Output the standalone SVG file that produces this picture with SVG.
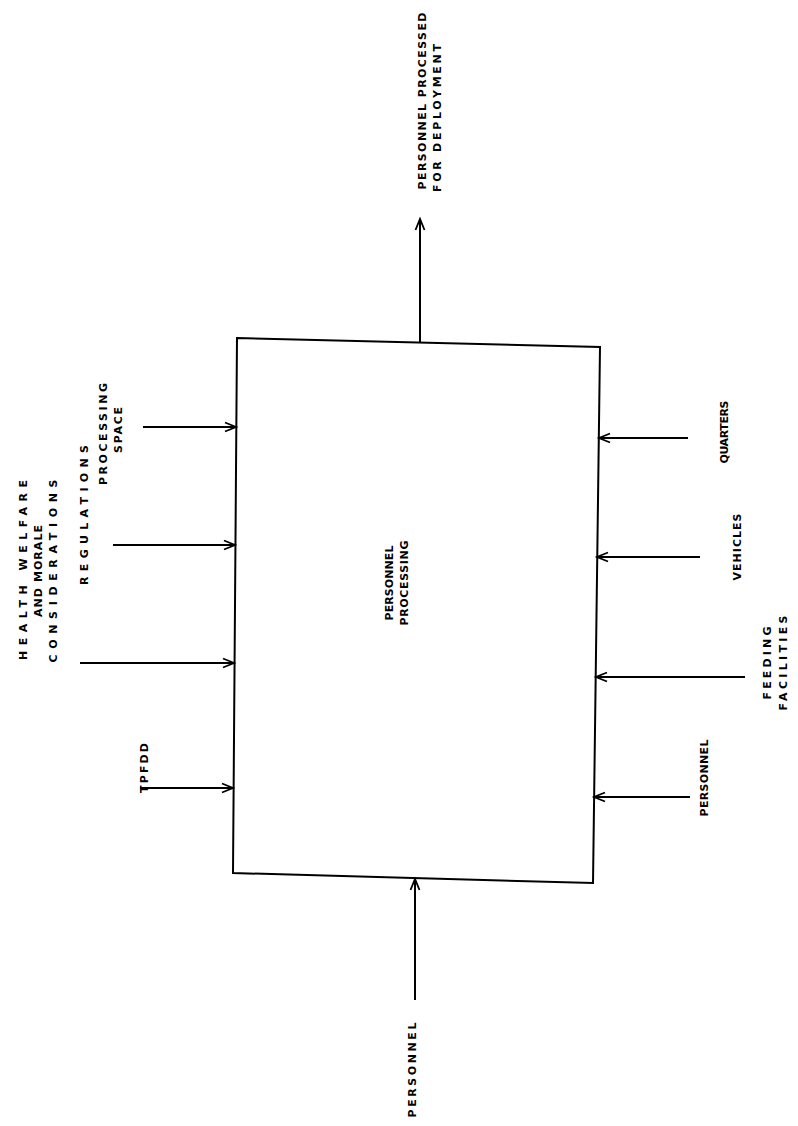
<svg xmlns="http://www.w3.org/2000/svg" width="798" height="1126" viewBox="0 0 798 1126">
<style>
.t{font-family:"DejaVu Sans","Liberation Sans",sans-serif;font-weight:bold;font-size:11px;fill:#000;text-anchor:middle}
.c{stroke:#000;stroke-width:2;fill:none;marker-end:url(#ah)}
.box{stroke:#000;stroke-width:2;fill:#fff}
</style>
<defs>
<marker id="ah" markerUnits="userSpaceOnUse" markerWidth="16" markerHeight="16" viewBox="-13 -8 16 16" refX="0" refY="0" orient="auto">
<path d="M-11,-4.5 L0,0 L-11,4.5" fill="none" stroke="#000" stroke-width="1.8"/>
</marker>
</defs>
<rect width="798" height="1126" fill="#fff"/>
<g id="node-process">
<path class="box" d="M237,338 L600,347 L593,883 L233,873 Z"/>
<text class="t" transform="translate(393,583) rotate(-90)" textLength="75" lengthAdjust="spacing">PERSONNEL</text>
<text class="t" transform="translate(408,583) rotate(-90)" textLength="85" lengthAdjust="spacing">PROCESSING</text>
</g>
<g id="connectors">
<line class="c" x1="420" y1="342" x2="420" y2="219"/>
<line class="c" x1="415" y1="1000" x2="415" y2="879"/>
<line class="c" x1="143" y1="427" x2="236" y2="427"/>
<line class="c" x1="113" y1="545" x2="235" y2="545"/>
<line class="c" x1="80" y1="663" x2="234" y2="663"/>
<line class="c" x1="140" y1="788" x2="233" y2="788"/>
<line class="c" x1="688" y1="438" x2="599" y2="438"/>
<line class="c" x1="700" y1="557" x2="597" y2="557"/>
<line class="c" x1="745" y1="677" x2="596" y2="677"/>
<line class="c" x1="690" y1="797" x2="594" y2="797"/>
</g>
<g id="label-output">
<text class="t" transform="translate(426,101) rotate(-90)" textLength="177" lengthAdjust="spacing">PERSONNEL PROCESSED</text>
<text class="t" transform="translate(441,118) rotate(-90)" textLength="148" lengthAdjust="spacing">FOR DEPLOYMENT</text>
</g>
<g id="label-personnel-in">
<text class="t" transform="translate(416,1070) rotate(-90)" textLength="95" lengthAdjust="spacing">PERSONNEL</text>
</g>
<g id="label-health">
<text class="t" transform="translate(27,570) rotate(-90)" textLength="180" lengthAdjust="spacing">HEALTH WELFARE</text>
<text class="t" transform="translate(42,571) rotate(-90)" textLength="92" lengthAdjust="spacing">AND MORALE</text>
<text class="t" transform="translate(57,571) rotate(-90)" textLength="183" lengthAdjust="spacing">CONSIDERATIONS</text>
</g>
<g id="label-regulations">
<text class="t" transform="translate(88,515) rotate(-90)" textLength="140" lengthAdjust="spacing">REGULATIONS</text>
</g>
<g id="label-space">
<text class="t" transform="translate(107,434) rotate(-90)" textLength="102" lengthAdjust="spacing">PROCESSING</text>
<text class="t" transform="translate(122,430) rotate(-90)" textLength="46" lengthAdjust="spacing">SPACE</text>
</g>
<g id="label-tpfdd">
<text class="t" transform="translate(148,768) rotate(-90)" textLength="50" lengthAdjust="spacing">TPFDD</text>
</g>
<g id="label-quarters">
<text class="t" transform="translate(728,432) rotate(-90)" textLength="63" lengthAdjust="spacing">QUARTERS</text>
</g>
<g id="label-vehicles">
<text class="t" transform="translate(741,547) rotate(-90)" textLength="67" lengthAdjust="spacing">VEHICLES</text>
</g>
<g id="label-feeding">
<text class="t" transform="translate(771,663) rotate(-90)" textLength="73" lengthAdjust="spacing">FEEDING</text>
<text class="t" transform="translate(787,663) rotate(-90)" textLength="95" lengthAdjust="spacing">FACILITIES</text>
</g>
<g id="label-personnel-mech">
<text class="t" transform="translate(708,778) rotate(-90)" textLength="77" lengthAdjust="spacing">PERSONNEL</text>
</g>
</svg>
